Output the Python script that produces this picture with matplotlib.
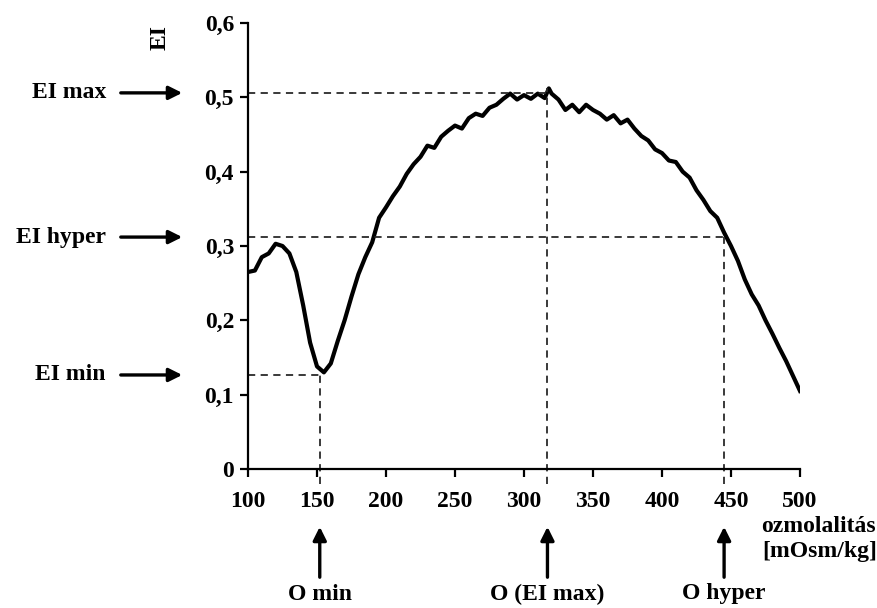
import numpy as np
import matplotlib
matplotlib.use("Agg")
import matplotlib.pyplot as plt
from matplotlib.ticker import FuncFormatter

plt.rcParams['font.family'] = ['Liberation Serif', 'DejaVu Serif']
plt.rcParams['font.weight'] = 'bold'

# osmolality [mOsm/kg] and elongation index
osm = [100, 105, 110, 115, 120, 125, 130, 135, 140, 145, 150, 155, 160, 165, 170,
       175, 180, 185, 190, 195, 200, 205, 210, 215, 220, 225, 230, 235, 240, 245,
       250, 255, 260, 265, 270, 275, 280, 285, 290, 295, 300, 305, 310, 315, 318,
       320, 325, 330, 335, 340, 345, 350, 355, 360, 365, 370, 375, 380, 385, 390,
       395, 400, 405, 410, 415, 420, 425, 430, 435, 440, 445, 450, 455, 460, 465,
       470, 475, 480, 485, 490, 495, 500]
ei = [0.265, 0.267, 0.285, 0.290, 0.303, 0.300, 0.290, 0.265, 0.220, 0.170, 0.138,
      0.130, 0.142, 0.172, 0.200, 0.232, 0.262, 0.285, 0.305, 0.338, 0.352, 0.367,
      0.380, 0.397, 0.410, 0.420, 0.435, 0.432, 0.447, 0.455, 0.462, 0.458, 0.472,
      0.478, 0.475, 0.486, 0.490, 0.498, 0.505, 0.497, 0.503, 0.498, 0.505, 0.499,
      0.512, 0.505, 0.497, 0.483, 0.490, 0.480, 0.490, 0.483, 0.478, 0.470, 0.476,
      0.465, 0.470, 0.458, 0.448, 0.442, 0.430, 0.425, 0.415, 0.413, 0.400, 0.392,
      0.375, 0.362, 0.347, 0.338, 0.318, 0.300, 0.280, 0.255, 0.235, 0.220, 0.200,
      0.182, 0.163, 0.145, 0.125, 0.105]

# characteristic points
o_min, ei_min = 152, 0.1265
o_max, ei_max = 317, 0.506
o_hyper, ei_hyper = 445, 0.312

W, H = 878, 608
fig = plt.figure(figsize=(W / 100, H / 100), dpi=100)
ax = fig.add_axes([248 / W, 1 - 469 / H, 552 / W, 446 / H])

ax.plot(osm, ei, color='black', lw=3, solid_joinstyle='round')

dash = dict(color='#2a2a2a', lw=1.3, ls=(0, (4, 3)), clip_on=False)
ax.plot([100, o_max], [ei_max, ei_max], **dash)
ax.plot([o_max, o_max], [-0.02, 0.513], **dash)
ax.plot([100, o_hyper], [ei_hyper, ei_hyper], **dash)
ax.plot([o_hyper, o_hyper], [-0.02, ei_hyper], **dash)
ax.plot([100, o_min], [ei_min, ei_min], **dash)
ax.plot([o_min, o_min], [-0.02, ei_min], **dash)

ax.set_xlim(100, 500)
ax.set_ylim(0, 0.6)
ax.set_xticks(np.arange(100, 501, 50))
ax.set_yticks(np.arange(0, 0.61, 0.1))
ax.yaxis.set_major_formatter(FuncFormatter(
    lambda v, p: '0' if abs(v) < 1e-9 else f'{v:.1f}'.replace('.', ',')))
ax.spines['top'].set_visible(False)
ax.spines['right'].set_visible(False)
for s in ('left', 'bottom'):
    ax.spines[s].set_linewidth(1.6)
ax.tick_params(direction='out', length=6, width=1.6, labelsize=17)
ax.tick_params(axis='x', pad=10)
ax.tick_params(axis='y', pad=4)

# y label
fig.text(160 / W, 1 - 38 / H, 'EI', rotation=90, ha='center', va='center',
         fontsize=17, fontweight='bold')

# left side arrows
for label, val in [('EI max', ei_max), ('EI hyper', ei_hyper), ('EI min', ei_min)]:
    ax.annotate('', xy=(185 / W, val), xycoords=('figure fraction', 'data'),
                xytext=(118 / W, val), textcoords=('figure fraction', 'data'),
                arrowprops=dict(arrowstyle='-|>', color='black', lw=2.4,
                                mutation_scale=20))
    ax.annotate(label, xy=(106 / W, val), xycoords=('figure fraction', 'data'),
                ha='right', va='center', fontsize=17, fontweight='bold')

# bottom arrows
for label, val in [('O min', o_min), ('O (EI max)', o_max), ('O hyper', o_hyper)]:
    ax.annotate('', xy=(val, 1 - 524 / H), xycoords=('data', 'figure fraction'),
                xytext=(val, 1 - 580 / H), textcoords=('data', 'figure fraction'),
                arrowprops=dict(arrowstyle='-|>', color='black', lw=2.4,
                                mutation_scale=20))
    ax.annotate(label, xy=(val, 1 - 594 / H), xycoords=('data', 'figure fraction'),
                ha='center', va='center', fontsize=17, fontweight='bold')

fig.text(761 / W, 1 - 526 / H, 'ozmolalitás', ha='left', va='center',
         fontsize=17, fontweight='bold')
fig.text(762 / W, 1 - 552 / H, '[mOsm/kg]', ha='left', va='center',
         fontsize=17, fontweight='bold')

fig.savefig('out.png', dpi=100)
